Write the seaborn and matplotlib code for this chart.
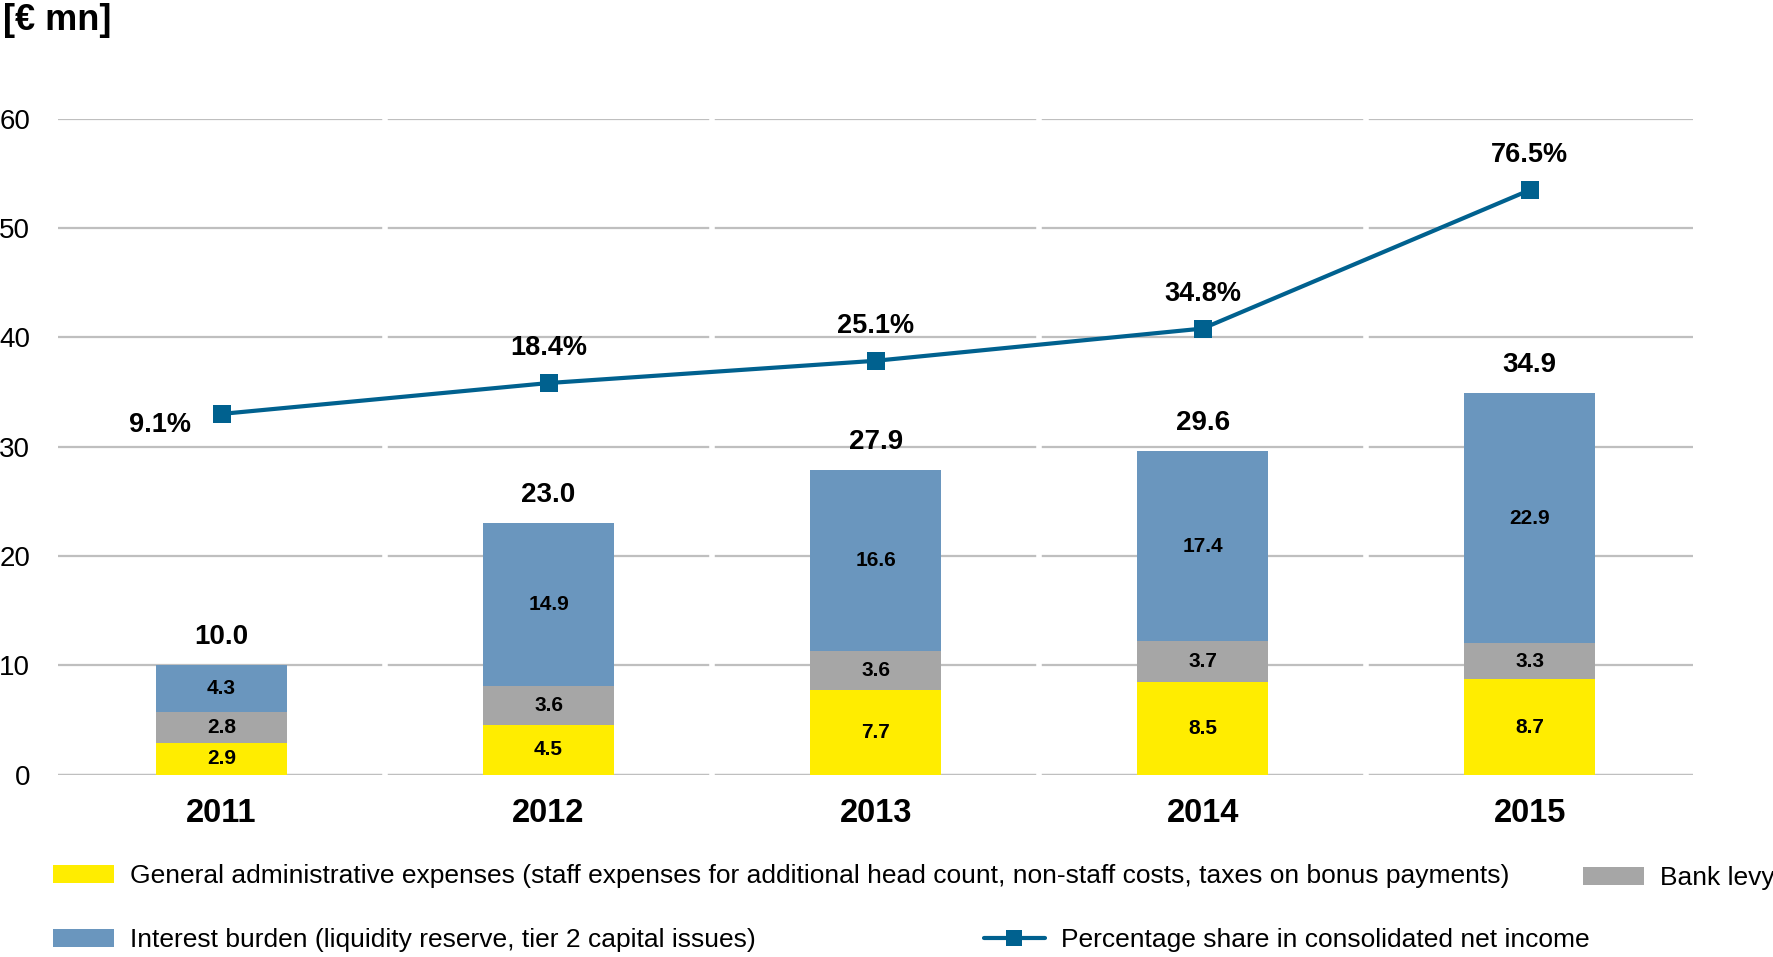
import numpy as np
import pandas as pd
import matplotlib
matplotlib.use("Agg")
import matplotlib.pyplot as plt
import seaborn as sns
from matplotlib.patches import Patch
from matplotlib.lines import Line2D

years = ["2011", "2012", "2013", "2014", "2015"]
admin = [2.9, 4.5, 7.7, 8.5, 8.7]
levy = [2.8, 3.6, 3.6, 3.7, 3.3]
interest = [4.3, 14.9, 16.6, 17.4, 22.9]
totals = [10.0, 23.0, 27.9, 29.6, 34.9]
pct = [9.1, 18.4, 25.1, 34.8, 76.5]

legend_labels = [
    "General administrative expenses (staff expenses for additional head count, non-staff costs, taxes on bonus payments)",
    "Bank levy",
    "Interest burden (liquidity reserve, tier 2 capital issues)",
    "Percentage share in consolidated net income",
]

C_YEL = "#FFED00"
C_GRY = "#A6A6A6"
C_BLU = "#6A96BE"
C_LINE = "#00618F"

sns.set_theme(style="white")
plt.rcParams["font.family"] = ["Liberation Sans", "DejaVu Sans"]
plt.rcParams["text.color"] = "black"
plt.rcParams["xtick.color"] = "black"
plt.rcParams["ytick.color"] = "black"

df = pd.DataFrame({"year": years, "admin": admin, "levy": levy, "interest": interest})
df["c1"] = df["admin"]
df["c2"] = df["admin"] + df["levy"]
df["c3"] = df["c2"] + df["interest"]

fig = plt.figure(figsize=(17.73, 9.57), dpi=100)
ax = fig.add_axes([0.0327, 0.1906, 0.9223, 0.6854])

for col, c in (("c3", C_BLU), ("c2", C_GRY), ("c1", C_YEL)):
    sns.barplot(data=df, x="year", y=col, color=c, width=0.4, saturation=1, ax=ax,
                zorder=3, linewidth=0, edgecolor="none")

ax.set_xlim(-0.5, len(years) - 0.5)
ax.set_ylim(0, 60)
ax.set_yticks([0, 10, 20, 30, 40, 50, 60])
ax.set_xlabel("")
ax.set_ylabel("")
for s in ax.spines.values():
    s.set_visible(False)
ax.yaxis.grid(True, color="#BFBFBF", linewidth=1.6, zorder=0)
ax.set_axisbelow(True)
ax.axhline(0, color="#BFBFBF", linewidth=1.6, zorder=1)
for b in np.arange(0.5, len(years) - 0.5, 1.0):
    ax.axvline(b, color="white", linewidth=4, zorder=2)
ax.tick_params(axis="y", length=0, pad=20, labelsize=20, labelcolor="black")
ax.tick_params(axis="x", length=0, pad=17, labelcolor="black")
for t in ax.get_xticklabels():
    t.set_fontsize(23.5)
    t.set_fontweight("bold")

# segment labels
for i in range(len(years)):
    ax.text(i, admin[i] / 2, f"{admin[i]:.1f}", ha="center", va="center",
            fontsize=15, fontweight="bold", zorder=5)
    ax.text(i, admin[i] + levy[i] / 2, f"{levy[i]:.1f}", ha="center", va="center",
            fontsize=15, fontweight="bold", zorder=5)
    ax.text(i, admin[i] + levy[i] + interest[i] / 2, f"{interest[i]:.1f}", ha="center", va="center",
            fontsize=15, fontweight="bold", zorder=5)
    ax.annotate(f"{totals[i]:.1f}", (i, totals[i]), xytext=(0, 20), textcoords="offset points",
                ha="center", va="center", fontsize=20, fontweight="bold", zorder=5)

# percentage line on hidden secondary axis
ax2 = ax.twinx()
ax2.set_ylim(-99.5, 98)
sns.lineplot(x=np.arange(len(years)), y=pct, ax=ax2, color=C_LINE, linewidth=3,
             marker="s", markersize=13, markeredgewidth=0, zorder=6)
ax2.set_axis_off()
for i, p in enumerate(pct):
    if i == 0:
        ax2.annotate(f"{p:.1f}%", (i, p), xytext=(-44, -8), textcoords="offset points",
                     ha="center", va="center", fontsize=19.5, fontweight="bold")
    else:
        ax2.annotate(f"{p:.1f}%", (i, p), xytext=(0, 25), textcoords="offset points",
                     ha="center", va="center", fontsize=19.5, fontweight="bold")

ax.set_xlim(-0.5, len(years) - 0.5)

fig.text(0.0017, 0.979, "[€ mn]", ha="left", va="center", fontsize=26, fontweight="bold")

# legend entries
handles = [
    Patch(facecolor=C_YEL, edgecolor="none"),
    Patch(facecolor=C_GRY, edgecolor="none"),
    Patch(facecolor=C_BLU, edgecolor="none"),
    Line2D([0], [0], color=C_LINE, linewidth=3, marker="s", markersize=11, markeredgewidth=0),
]
anchors = [(53 / 1773, 1 - 876 / 957), (1583 / 1773, 1 - 878 / 957),
           (53 / 1773, 1 - 940 / 957), (984 / 1773, 1 - 940 / 957)]
for h, lab, anc in zip(handles, legend_labels, anchors):
    fig.legend([h], [lab], loc="center left", bbox_to_anchor=anc, frameon=False,
               fontsize=19, handlelength=2.3, handleheight=0.65, handletextpad=0.6,
               borderpad=0, borderaxespad=0)

fig.savefig("out.png", dpi=100, facecolor="white")
